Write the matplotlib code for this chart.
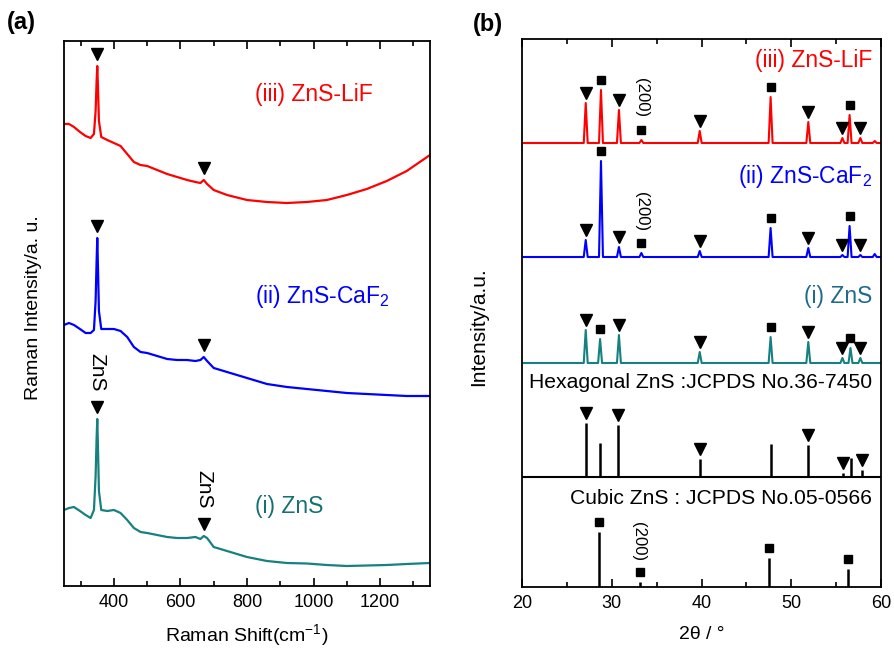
import matplotlib
matplotlib.use("Agg")
import matplotlib.pyplot as plt
import numpy as np

plt.rcParams['font.family'] = ['Liberation Sans', 'DejaVu Sans']
plt.rcParams['mathtext.default'] = 'regular'

# ---- Raman spectra (panel a) ----
raman_x = [250, 265, 280, 298, 315, 330, 340, 345, 348, 350, 352, 355, 362, 380,
           400, 420, 440, 460, 480, 500, 530, 560, 590, 620, 645, 660, 670, 680,
           700, 740, 800, 860, 920, 980, 1040, 1100, 1160, 1220, 1280, 1350]
raman_lif = [462, 462, 459, 454, 450, 448, 452, 475, 505, 520, 500, 465, 449, 446,
             443, 440, 432, 424, 421, 420, 416, 412, 409, 406, 404, 403, 406, 402,
             396, 391, 386, 384, 383, 384, 386, 391, 397, 405, 415, 431]
raman_caf2 = [261, 263, 261, 257, 253, 253, 256, 285, 325, 348, 320, 275, 257, 257,
              257, 255, 249, 239, 234, 233, 230, 227, 226, 226, 225, 226, 229, 225,
              218, 214, 208, 202, 199, 197, 195, 193, 192, 191, 190, 190]
raman_zns = [76, 78, 79, 75, 71, 68, 76, 110, 148, 167, 140, 95, 76, 75,
             76, 73, 66, 58, 54, 53, 51, 49, 48, 48, 49, 47, 50, 48,
             39, 35, 29, 25, 23, 22.5, 21, 20, 20.5, 21, 22, 23]
raman_marks = [350, 670]

# ---- XRD patterns (panel b) ----
xrd_pos = [27.1, 28.8, 30.8, 33.3, 39.8, 47.7, 51.9, 55.7, 56.5, 57.7, 59.3]
xrd_phase = ['h', 'c', 'h', 'c', 'h', 'c', 'h', 'h', 'c', 'h', '']
lif_hgt = [40, 53, 33, 3, 12, 46, 21, 5, 28, 5, 2]
caf2_hgt = [17, 96, 10, 4, 6, 29, 9, 2, 31, 2, 3]

zns_pos = [27.1, 28.7, 30.8, 39.8, 47.7, 51.9, 55.7, 56.6, 57.7]
zns_phase = ['h', 'c', 'h', 'h', 'c', 'h', 'h', 'c', 'h']
zns_hgt = [33, 24, 28, 11, 26, 21, 5, 15, 5]

hex_pos = [27.08, 28.67, 30.74, 39.8, 47.75, 51.9, 55.8, 56.7, 57.85, 59.25]
hex_hgt = [54, 34, 52, 18, 33, 32, 4, 19, 7, 1]
hex_phase = ['h', '', 'h', 'h', '', 'h', 'h', '', 'h', '']

cub_pos = [28.55, 33.1, 47.5, 56.3]
cub_hgt = [55, 5, 29, 18]
cub_phase = ['c', 'c', 'c', 'c']

RED = '#ff0000'
BLUE = '#0000ff'
TEAL = '#178080'

fig = plt.figure(figsize=(8.95, 6.48), dpi=100)
ax1 = fig.add_axes([64 / 895, 62 / 648, 366 / 895, 545 / 648])
ax2 = fig.add_axes([522 / 895, 61 / 648, 359 / 895, 548 / 648])

# panel (a)
for ys, c in [(raman_lif, RED), (raman_caf2, BLUE), (raman_zns, TEAL)]:
    ax1.plot(raman_x, ys, color=c, lw=1.6)
    my = np.interp(raman_marks, raman_x, ys) + 12.5
    ax1.plot(raman_marks, my, 'kv', ms=8, ls='none')
    if c == TEAL:
        for mx, yy in zip(raman_marks, my):
            ax1.text(mx, yy + 34, 'ZnS', rotation=-90, ha='center', va='center', fontsize=15)

ax1.text(823, 492, '(iii) ZnS-LiF', color=RED, fontsize=16.5, va='center')
ax1.text(823, 290, '(ii) ZnS-CaF$_2$', color=BLUE, fontsize=16.5, va='center')
ax1.text(823, 79, '(i) ZnS', color='#167070', fontsize=16.5, va='center')

ax1.set_xlim(250, 1350)
ax1.set_ylim(0, 545)
ax1.set_xticks(np.arange(400, 1201, 200))
ax1.set_xticks(np.arange(300, 1301, 100), minor=True)
ax1.set_yticks([])
ax1.set_xlabel('Raman Shift(cm$^{-1}$)', fontsize=14, labelpad=8)
ax1.set_ylabel('Raman Intensity/a. u.', fontsize=14)
ax1.yaxis.set_label_coords(-0.06, 0.511)


# panel (b)
def pattern(pos, hgt, base, w=0.22):
    xs, ys = [20], [base]
    for p, h in zip(pos, hgt):
        xs += [p - w, p, p + w]
        ys += [base, base + h, base]
    xs.append(60)
    ys.append(base)
    return xs, ys


def marks(ax, pos, hgt, phase, base):
    for p, h, ph in zip(pos, hgt, phase):
        if ph == 'h':
            ax.plot(p, base + h + 10, 'kv', ms=8)
        elif ph == 'c':
            ax.plot(p, base + h + 10, 'ks', ms=5.5)


for pos, hgt, phase, base, c in [(xrd_pos, lif_hgt, xrd_phase, 444, RED),
                                 (xrd_pos, caf2_hgt, xrd_phase, 330, BLUE),
                                 (zns_pos, zns_hgt, zns_phase, 224, TEAL)]:
    xs, ys = pattern(pos, hgt, base)
    ax2.plot(xs, ys, color=c, lw=1.5)
    marks(ax2, pos, hgt, phase, base)

ax2.axhline(110, color='k', lw=1.5)
ax2.vlines(hex_pos, 110, [110 + h for h in hex_hgt], color='k', lw=1.8)
marks(ax2, hex_pos, hex_hgt, hex_phase, 110)
ax2.vlines(cub_pos, 0, cub_hgt, color='k', lw=1.8)
marks(ax2, cub_pos, cub_hgt, cub_phase, 0)

for x200, y200 in [(33.35, 489), (33.35, 375), (33.0, 45)]:
    ax2.text(x200, y200, '(200)', rotation=-90, ha='center', va='center', fontsize=12)

ax2.text(59.0, 527, '(iii) ZnS-LiF', color=RED, fontsize=16.4, ha='right', va='center')
ax2.text(59.0, 410, '(ii) ZnS-CaF$_2$', color=BLUE, fontsize=16.4, ha='right', va='center')
ax2.text(59.0, 290, '(i) ZnS', color='#1f6a8a', fontsize=16.4, ha='right', va='center')
ax2.text(59.0, 204, 'Hexagonal ZnS :JCPDS No.36-7450', fontsize=15.2, ha='right', va='center')
ax2.text(59.0, 88, 'Cubic ZnS : JCPDS No.05-0566', fontsize=15.2, ha='right', va='center')

ax2.set_xlim(20, 60)
ax2.set_ylim(0, 548)
ax2.set_xticks(np.arange(20, 61, 10))
ax2.set_xticks(np.arange(25, 56, 10), minor=True)
ax2.set_yticks([])
ax2.set_xlabel('2θ / °', fontsize=14, labelpad=10)
ax2.set_ylabel('Intensity/a.u.', fontsize=15)
ax2.yaxis.set_label_coords(-0.095, 0.476)

for ax in (ax1, ax2):
    ax.tick_params(axis='x', which='both', direction='in', top=True, labelsize=13, pad=6)
    ax.tick_params(axis='x', which='major', length=6, width=1.2)
    ax.tick_params(axis='x', which='minor', length=3.5, width=1.2)
    for s in ax.spines.values():
        s.set_linewidth(1.3)

fig.text(0.008, 0.965, '(a)', fontsize=17, fontweight='bold', va='center')
fig.text(0.528, 0.962, '(b)', fontsize=17, fontweight='bold', va='center')

fig.savefig('out.png', dpi=100)
